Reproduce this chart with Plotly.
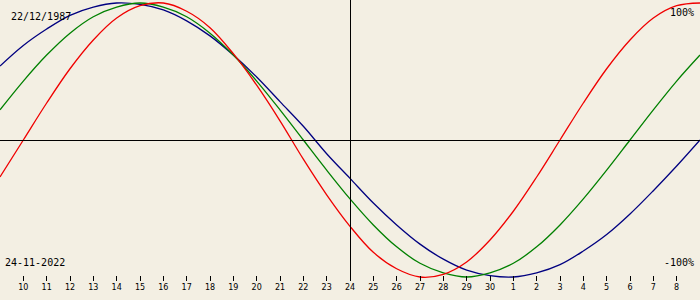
import plotly.graph_objects as go

# day offsets relative to 24-11-2022 (centre of chart)
day_offsets = list(range(-15, 16))

# (fraction of +/-100%)
physical = [-0.27, 0.00, 0.27, 0.52, 0.73, 0.89, 0.98, 1.00, 0.94, 0.82, 0.63,
            0.40, 0.14, -0.14, -0.40, -0.63, -0.82, -0.94, -1.00, -0.98, -0.89,
            -0.73, -0.52, -0.27, 0.00, 0.27, 0.52, 0.73, 0.89, 0.98, 1.00]
emotional = [0.22, 0.43, 0.62, 0.78, 0.90, 0.97, 1.00, 0.97, 0.90, 0.78, 0.62,
             0.43, 0.22, 0.00, -0.22, -0.43, -0.62, -0.78, -0.90, -0.97, -1.00,
             -0.97, -0.90, -0.78, -0.62, -0.43, -0.22, 0.00, 0.22, 0.43, 0.62]
intellectual = [0.54, 0.69, 0.81, 0.91, 0.97, 1.00, 0.99, 0.95, 0.87, 0.76, 0.62,
                0.46, 0.28, 0.10, -0.10, -0.28, -0.46, -0.62, -0.76, -0.87, -0.95,
                -0.99, -1.00, -0.97, -0.91, -0.81, -0.69, -0.54, -0.37, -0.19, 0.00]

tick_offsets = list(range(-14, 15))
tick_labels = ["10", "11", "12", "13", "14", "15", "16", "17", "18", "19", "20",
               "21", "22", "23", "24", "25", "26", "27", "28", "29", "30",
               "1", "2", "3", "4", "5", "6", "7", "8"]

birth_date = "22/12/1987"
target_date = "24-11-2022"

W, H = 700, 300
BG = "#F3EFE3"

fig = go.Figure()
for vals, col in [(intellectual, "#000080"), (emotional, "#008000"), (physical, "#F00000")]:
    fig.add_trace(go.Scatter(x=day_offsets, y=vals, mode="lines",
                             line=dict(color=col, width=1.3, shape="spline"),
                             hoverinfo="skip", showlegend=False))

# axes lines (half-pixel offsets for crisp 1px lines)
fig.add_shape(type="line", xref="paper", yref="paper", x0=0, x1=1,
              y0=1 - 140.5 / H, y1=1 - 140.5 / H,
              line=dict(color="black", width=1))
fig.add_shape(type="line", xref="paper", yref="paper", x0=350.5 / W, x1=350.5 / W,
              y0=1 - 281 / H, y1=1, line=dict(color="black", width=1))

def ann(text, px, py, xanchor):
    fig.add_annotation(text=text, x=px / W, y=1 - py / H, xref="paper", yref="paper",
                       xanchor=xanchor, yanchor="middle", showarrow=False,
                       font=dict(family="DejaVu Sans Mono", size=10, color="black"))

ann(birth_date, 9, 17, "left")
ann(target_date, 3, 262, "left")
ann("100%", 696, 12, "right")
ann("-100%", 696, 262, "right")

fig.update_layout(
    width=W, height=H, margin=dict(l=0, r=0, t=0, b=0),
    paper_bgcolor=BG, plot_bgcolor=BG,
    xaxis=dict(range=[-15, 15], tickvals=tick_offsets, ticktext=tick_labels,
               showgrid=False, zeroline=False, showline=False,
               ticks="outside", ticklen=5, tickwidth=1, tickcolor="black",
               anchor="free", position=1 - 274.5 / H,
               tickfont=dict(family="DejaVu Sans", size=8, color="black")),
    yaxis=dict(range=[-160 / 137, 140 / 137], showgrid=False, zeroline=False,
               showticklabels=False, showline=False, ticks=""),
)

fig.write_html("out.html")
